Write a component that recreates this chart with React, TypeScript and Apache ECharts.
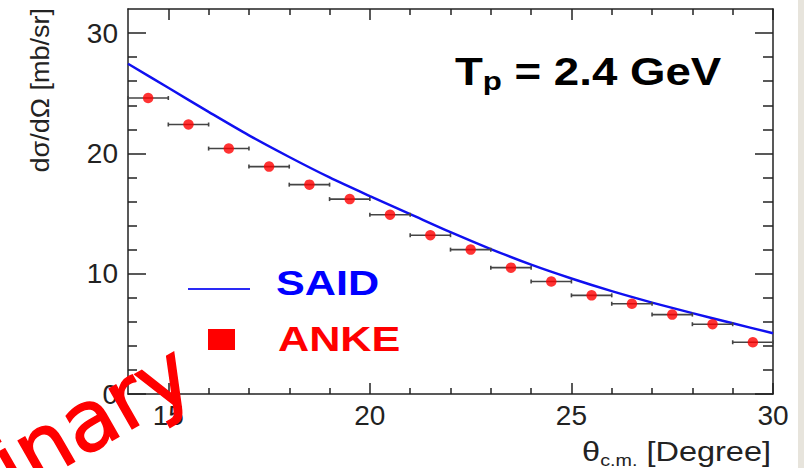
import React, { useEffect, useRef } from "react";
import * as echarts from "echarts";

// ANKE data points (bin centres, half-widths, cross sections)
const angles = [14.5, 15.5, 16.5, 17.5, 18.5, 19.5, 20.5, 21.5, 22.5, 23.5, 24.5, 25.5, 26.5, 27.5, 28.5, 29.5];
const angleHalfWidths = [0.5, 0.5, 0.5, 0.5, 0.5, 0.5, 0.5, 0.5, 0.5, 0.5, 0.5, 0.5, 0.5, 0.5, 0.5, 0.5];
const ankeValues = [24.6, 22.4, 20.4, 18.9, 17.4, 16.2, 14.9, 13.2, 12.0, 10.5, 9.35, 8.2, 7.5, 6.6, 5.8, 4.3];

// SAID curve
const saidAngles = [14, 15, 16, 17, 18, 19, 20, 21, 22, 23, 24, 25, 26, 27, 28, 29, 30];
const saidValues = [27.45, 25.45, 23.45, 21.5, 19.7, 18.0, 16.45, 14.95, 13.45, 12.05, 10.75, 9.6, 8.55, 7.6, 6.72, 5.88, 5.05];

// ticks
const xMajorTicks = [15, 20, 25, 30];
const xMinorTicks = [16, 17, 18, 19, 21, 22, 23, 24, 26, 27, 28, 29];
const yMajorTicks = [0, 10, 20, 30];
const yMinorTicks = [2, 4, 6, 8, 12, 14, 16, 18, 22, 24, 26, 28];

const FONT = "'Liberation Sans', Arial, Helvetica, sans-serif";
const AXIS_COLOR = "#222";

export default function App() {
  const ref = useRef<HTMLDivElement>(null);

  useEffect(() => {
    if (!ref.current) return;
    const chart = echarts.init(ref.current, null, { renderer: "svg" });

    const lineStyle = { color: AXIS_COLOR, width: 1.5 };
    const baseX = { type: "value", min: 14, max: 30, splitLine: { show: false } };
    const baseY = { type: "value", min: 0, max: 32, splitLine: { show: false } };

    const option: any = {
      animation: false,
      backgroundColor: "#ffffff",
      grid: { left: 128, top: 9, right: 31, bottom: 74 },
      xAxis: [
        {
          ...baseX,
          position: "bottom",
          axisLine: { show: true, onZero: false, lineStyle },
          axisTick: { show: true, inside: true, length: 11, customValues: xMajorTicks, lineStyle },
          axisLabel: { show: true, customValues: xMajorTicks, fontSize: 28, fontFamily: FONT, color: AXIS_COLOR, margin: 7 },
        },
        {
          ...baseX,
          position: "bottom",
          axisLine: { show: false, onZero: false },
          axisTick: { show: true, inside: true, length: 6, customValues: xMinorTicks, lineStyle },
          axisLabel: { show: false },
        },
        {
          ...baseX,
          position: "top",
          axisLine: { show: true, onZero: false, lineStyle },
          axisTick: { show: true, inside: true, length: 11, customValues: xMajorTicks, lineStyle },
          axisLabel: { show: false },
        },
        {
          ...baseX,
          position: "top",
          axisLine: { show: false, onZero: false },
          axisTick: { show: true, inside: true, length: 6, customValues: xMinorTicks, lineStyle },
          axisLabel: { show: false },
        },
      ],
      yAxis: [
        {
          ...baseY,
          position: "left",
          axisLine: { show: true, onZero: false, lineStyle },
          axisTick: { show: true, inside: true, length: 18, customValues: yMajorTicks, lineStyle },
          axisLabel: { show: true, customValues: yMajorTicks, fontSize: 28, fontFamily: FONT, color: AXIS_COLOR, margin: 10 },
        },
        {
          ...baseY,
          position: "left",
          axisLine: { show: false, onZero: false },
          axisTick: { show: true, inside: true, length: 9, customValues: yMinorTicks, lineStyle },
          axisLabel: { show: false },
        },
        {
          ...baseY,
          position: "right",
          axisLine: { show: true, onZero: false, lineStyle },
          axisTick: { show: true, inside: true, length: 18, customValues: yMajorTicks, lineStyle },
          axisLabel: { show: false },
        },
        {
          ...baseY,
          position: "right",
          axisLine: { show: false, onZero: false },
          axisTick: { show: true, inside: true, length: 10, customValues: yMinorTicks, lineStyle },
          axisLabel: { show: false },
        },
      ],
      series: [
        {
          name: "SAID",
          type: "line",
          xAxisIndex: 0,
          yAxisIndex: 0,
          data: saidAngles.map((a, i) => [a, saidValues[i]]),
          symbol: "none",
          smooth: 0.3,
          lineStyle: { color: "#1010f0", width: 2.4 },
          z: 3,
        },
        {
          name: "ANKE errors",
          type: "custom",
          xAxisIndex: 0,
          yAxisIndex: 0,
          data: angles.map((a, i) => [a, ankeValues[i], angleHalfWidths[i]]),
          renderItem: (params: any, api: any) => {
            const x = api.value(0);
            const y = api.value(1);
            const e = api.value(2);
            const p1 = api.coord([x - e, y]);
            const p2 = api.coord([x + e, y]);
            const st = { stroke: "#444", lineWidth: 1.6 };
            return {
              type: "group",
              children: [
                { type: "line", shape: { x1: p1[0], y1: p1[1], x2: p2[0], y2: p2[1] }, style: st },
                { type: "line", shape: { x1: p1[0], y1: p1[1] - 2, x2: p1[0], y2: p1[1] + 2 }, style: st },
                { type: "line", shape: { x1: p2[0], y1: p2[1] - 2, x2: p2[0], y2: p2[1] + 2 }, style: st },
              ],
            };
          },
          z: 4,
        },
        {
          name: "ANKE",
          type: "scatter",
          xAxisIndex: 0,
          yAxisIndex: 0,
          data: angles.map((a, i) => [a, ankeValues[i]]),
          symbol: "circle",
          symbolSize: 10.5,
          itemStyle: { color: "#ff0000" },
          z: 5,
        },
      ],
      graphic: [
        {
          type: "rect",
          shape: { x: 798, y: 0, width: 6, height: 468 },
          style: { fill: "#e7e4dc" },
          z: 1,
        },
        {
          type: "text",
          x: 40,
          y: 8,
          rotation: Math.PI / 2,
          scaleX: 1.04,
          style: {
            text: "dσ/dΩ [mb/sr]",
            fontSize: 26,
            fontFamily: FONT,
            fill: AXIS_COLOR,
            textAlign: "right",
            align: "right",
            textVerticalAlign: "middle",
            verticalAlign: "middle",
          },
        },
        {
          type: "text",
          x: 771,
          y: 451,
          scaleX: 1.16,
          style: {
            text: "{t|θ}{s|c.m.}{t| [Degree]}",
            textAlign: "right",
            align: "right",
            textVerticalAlign: "middle",
            verticalAlign: "middle",
            rich: {
              t: { fontSize: 28, fontFamily: FONT, fill: AXIS_COLOR, lineHeight: 34 },
              s: { fontSize: 17, fontFamily: FONT, fill: AXIS_COLOR, lineHeight: 17, verticalAlign: "bottom" },
            },
          },
        },
        {
          type: "text",
          x: 455,
          y: 72,
          scaleX: 1.2,
          style: {
            text: "{T|T}{p|p}{r| = 2.4 GeV}",
            textAlign: "left",
            align: "left",
            textVerticalAlign: "middle",
            verticalAlign: "middle",
            rich: {
              T: { fontSize: 38, fontWeight: "bold", fontFamily: FONT, fill: "#000", lineHeight: 44 },
              p: { fontSize: 26, fontWeight: "bold", fontFamily: FONT, fill: "#000", lineHeight: 22, verticalAlign: "bottom" },
              r: { fontSize: 38, fontWeight: "bold", fontFamily: FONT, fill: "#000", lineHeight: 44 },
            },
          },
        },
        {
          type: "line",
          shape: { x1: 188, y1: 289, x2: 250, y2: 289 },
          style: { stroke: "#2a2af5", lineWidth: 2 },
        },
        {
          type: "text",
          x: 276,
          y: 282,
          scaleX: 1.2,
          style: {
            text: "SAID",
            fontSize: 36,
            fontWeight: "bold",
            fontFamily: FONT,
            fill: "#0000ff",
            textAlign: "left",
            align: "left",
            textVerticalAlign: "middle",
            verticalAlign: "middle",
          },
        },
        {
          type: "rect",
          shape: { x: 208, y: 329, width: 27, height: 21 },
          style: { fill: "#ff0000" },
        },
        {
          type: "text",
          x: 278,
          y: 338,
          scaleX: 1.2,
          style: {
            text: "ANKE",
            fontSize: 36,
            fontWeight: "bold",
            fontFamily: FONT,
            fill: "#ff0000",
            textAlign: "left",
            align: "left",
            textVerticalAlign: "middle",
            verticalAlign: "middle",
          },
        },
        {
          type: "text",
          x: 205,
          y: 402,
          rotation: 0.52,
          z: 100,
          style: {
            text: "Preliminary",
            fontSize: 84,
            fontFamily: "'DejaVu Sans', sans-serif",
            fill: "#ff0000",
            stroke: "#ff0000",
            lineWidth: 1.5,
            textAlign: "right",
            align: "right",
            textVerticalAlign: "bottom",
            verticalAlign: "bottom",
          },
        },
      ],
    };

    chart.setOption(option);
    return () => chart.dispose();
  }, []);

  return <div ref={ref} style={{ position: "absolute", left: 0, top: 0, width: 804, height: 468 }} />;
}
